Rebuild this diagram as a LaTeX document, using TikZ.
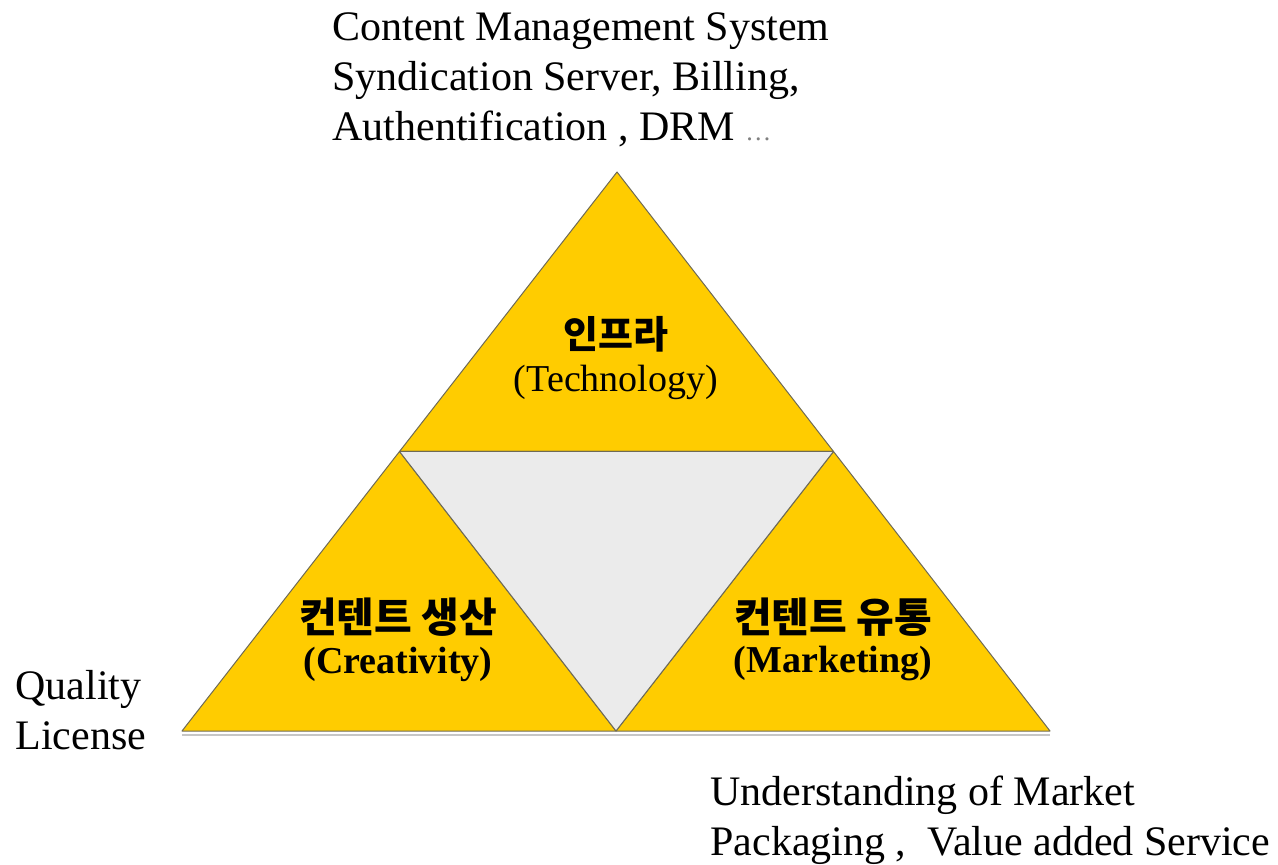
\documentclass[tikz,border=0pt]{standalone}
\usepackage{fontspec}
\setmainfont{Liberation Serif}
\newfontfamily\krfont{Noto Sans CJK KR}
\usetikzlibrary{positioning}
\usetikzlibrary{calc}
\definecolor{partyellow}{HTML}{FFCC00}
\definecolor{holegrey}{HTML}{EBEBEB}
\definecolor{edgegrey}{HTML}{6E6A55}

\begin{document}
\begin{tikzpicture}[x=0.5pt,y=-0.5pt,line join=round,
  part/.style={fill=partyellow,draw=edgegrey,line width=0.5pt},
  hole/.style={fill=holegrey,draw=edgegrey,line width=0.5pt},
  note/.style={font=\fontsize{21}{25}\selectfont,align=left,inner sep=0pt,anchor=base west},
  krlabel/.style={font=\krfont\bfseries\fontsize{#1}{22}\selectfont,inner sep=0pt},
  krlabel/.default=19,
  enlabel/.style={font=\fontsize{19}{22}\selectfont,inner sep=0pt}]
  \useasboundingbox (0,0) rectangle (1278,865);
  %
  \coordinate (top)   at (617,172);
  \coordinate (left)  at (182,731);
  \coordinate (right) at (1050,731);
  \coordinate (ml)    at ($(top)!0.5!(left)$);
  \coordinate (mr)    at ($(top)!0.5!(right)$);
  \coordinate (mb)    at ($(left)!0.5!(right)$);
  %
  % shadow under the base
  \draw[gray!45,line width=1.2pt] ([yshift=-2]left) -- ([yshift=-2]right);
  \draw[part] (top) -- (ml) -- (mr) -- cycle;
  \draw[part] (ml) -- (left) -- (mb) -- cycle;
  \draw[part] (mr) -- (mb) -- (right) -- cycle;
  \draw[hole] (ml) -- (mr) -- (mb) -- cycle;
  %
  \node[krlabel] (infra) at (616,334) {인프라};
  \node[enlabel] (tech)  at (616,382) {(Technology)};
  \node[krlabel=20.5] (make) at (398,617) {컨텐트 생산};
  \node[enlabel,font=\bfseries\fontsize{19}{22}\selectfont] (crea) at (398,664) {(Creativity)};
  \node[krlabel=20.5] (flow) at (833,617) {컨텐트 유통};
  \node[enlabel,font=\bfseries\fontsize{19}{22}\selectfont] (mark) at (833,664) {(Marketing)};
  %
  \node[note] (infranote) at (332,141) {Content Management System\\Syndication Server, Billing,\\Authentification , DRM {\color{gray}\fontsize{13}{13}\selectfont\ldots}};
  \node[note] (makenote)  at (15,749) {Quality\\License};
  \node[note] (flownote)  at (710,855) {Understanding of Market\\Packaging ,\ \ Value added Service};
\end{tikzpicture}
\end{document}
